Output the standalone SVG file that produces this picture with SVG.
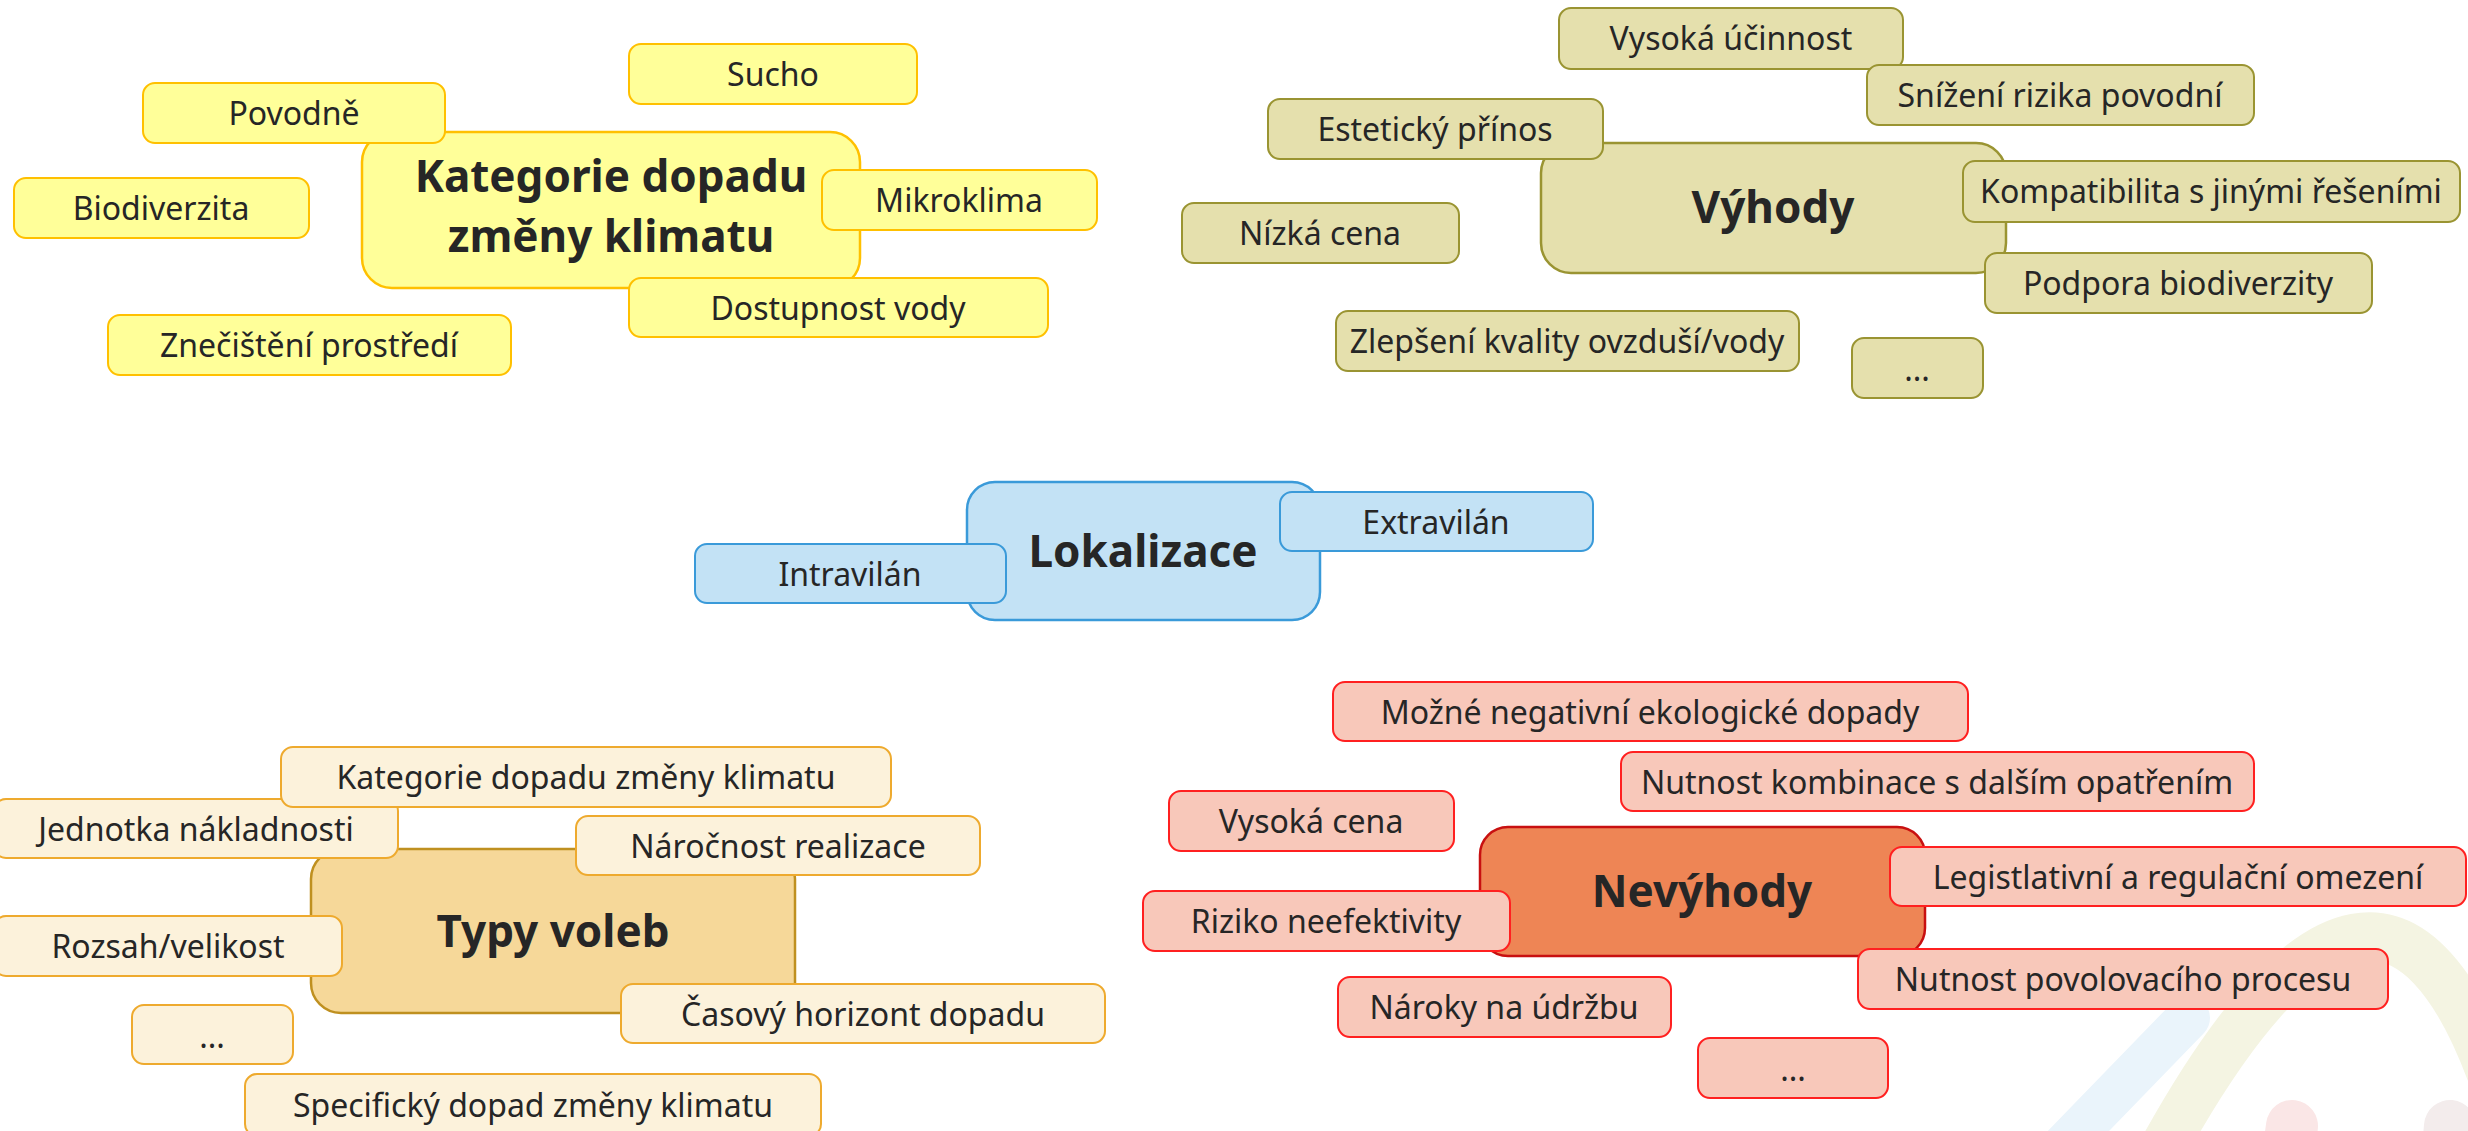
<svg xmlns="http://www.w3.org/2000/svg" width="2468" height="1131" viewBox="0 0 2468 1131">
<style>
rect{stroke-width:2}
.ym{fill:#FFFF99;stroke:#FFC000;stroke-width:2.5}
.y{fill:#FFFF99;stroke:#FFC000}
.km{fill:#E5E0AD;stroke:#9A9432;stroke-width:2.5}
.k{fill:#E5E0AD;stroke:#9A9432}
.bm{fill:#C3E2F5;stroke:#3A9AD9;stroke-width:2.5}
.b{fill:#C3E2F5;stroke:#3A9AD9}
.om{fill:#F6D899;stroke:#BF9020;stroke-width:2.5}
.o{fill:#FCF2DB;stroke:#EEAA2E}
.rm{fill:#EE8555;stroke:#C81010;stroke-width:2.5}
.r{fill:#F8C8BA;stroke:#FF2020}
text{font-family:"Noto Sans","Open Sans",sans-serif;fill:#262626;text-anchor:middle}
.t{font-size:32px}
.h{font-size:44px;font-weight:bold}
.wm{fill:none;stroke-linecap:round}
</style>
<g id="watermark">
<path class="wm" d="M2165 1145 Q2380 760 2495 1085" stroke="#F4F4E2" stroke-width="48"/>
<path class="wm" d="M2188 1018 L2060 1150" stroke="#EAF4FB" stroke-width="44"/>
<path class="wm" d="M2292 1126 L2286 1170" stroke="#FAE6E6" stroke-width="52"/>
<path class="wm" d="M2450 1126 L2446 1170" stroke="#F3ECEC" stroke-width="52"/>
</g>
<g id="connectors"/>
<g id="kategorie">
<g id="kategorie-main"><rect class="ym" x="362" y="132" width="498" height="156" rx="30"/><text class="h" x="611" y="192">Kategorie dopadu</text><text class="h" x="611" y="252">změny klimatu</text></g>
<g id="sucho"><rect class="y" x="629" y="44" width="288" height="60" rx="12"/><text class="t" x="773" y="86">Sucho</text></g>
<g id="povodne"><rect class="y" x="143" y="83" width="302" height="60" rx="12"/><text class="t" x="294" y="125">Povodně</text></g>
<g id="biodiverzita"><rect class="y" x="14" y="178" width="295" height="60" rx="12"/><text class="t" x="161" y="220">Biodiverzita</text></g>
<g id="mikroklima"><rect class="y" x="822" y="170" width="275" height="60" rx="12"/><text class="t" x="959" y="212">Mikroklima</text></g>
<g id="dostupnost"><rect class="y" x="629" y="278" width="419" height="59" rx="12"/><text class="t" x="838" y="320">Dostupnost vody</text></g>
<g id="znecisteni"><rect class="y" x="108" y="315" width="403" height="60" rx="12"/><text class="t" x="309" y="357">Znečištění prostředí</text></g>
</g>
<g id="vyhody">
<g id="vyhody-main"><rect class="km" x="1541" y="143" width="465" height="130" rx="30"/><text class="h" x="1773" y="223">Výhody</text></g>
<g id="vysoka-ucinnost"><rect class="k" x="1559" y="8" width="344" height="61" rx="12"/><text class="t" x="1731" y="50">Vysoká účinnost</text></g>
<g id="snizeni"><rect class="k" x="1867" y="65" width="387" height="60" rx="12"/><text class="t" x="2060" y="107">Snížení rizika povodní</text></g>
<g id="esteticky"><rect class="k" x="1268" y="99" width="335" height="60" rx="12"/><text class="t" x="1435" y="141">Estetický přínos</text></g>
<g id="kompatibilita"><rect class="k" x="1963" y="161" width="497" height="61" rx="12"/><text class="t" x="2211" y="203">Kompatibilita s jinými řešeními</text></g>
<g id="nizka-cena"><rect class="k" x="1182" y="203" width="277" height="60" rx="12"/><text class="t" x="1320" y="245">Nízká cena</text></g>
<g id="podpora"><rect class="k" x="1985" y="253" width="387" height="60" rx="12"/><text class="t" x="2178" y="295">Podpora biodiverzity</text></g>
<g id="zlepseni"><rect class="k" x="1336" y="311" width="463" height="60" rx="12"/><text class="t" x="1567" y="353">Zlepšení kvality ovzduší/vody</text></g>
<g id="vyhody-etc"><rect class="k" x="1852" y="338" width="131" height="60" rx="12"/><text class="t" x="1917" y="381">...</text></g>
</g>
<g id="lokalizace">
<g id="lokalizace-main"><rect class="bm" x="967" y="482" width="353" height="138" rx="28"/><text class="h" x="1143" y="567">Lokalizace</text></g>
<g id="intravilan"><rect class="b" x="695" y="544" width="311" height="59" rx="12"/><text class="t" x="850" y="586">Intravilán</text></g>
<g id="extravilan"><rect class="b" x="1280" y="492" width="313" height="59" rx="12"/><text class="t" x="1436" y="534">Extravilán</text></g>
</g>
<g id="typy">
<g id="typy-main"><rect class="om" x="311" y="849" width="484" height="164" rx="30"/><text class="h" x="553" y="947">Typy voleb</text></g>
<g id="jednotka"><rect class="o" x="-6" y="799" width="404" height="59" rx="12"/><text class="t" x="196" y="841">Jednotka nákladnosti</text></g>
<g id="typy-kategorie"><rect class="o" x="281" y="747" width="610" height="60" rx="12"/><text class="t" x="586" y="789">Kategorie dopadu změny klimatu</text></g>
<g id="narocnost"><rect class="o" x="576" y="816" width="404" height="59" rx="12"/><text class="t" x="778" y="858">Náročnost realizace</text></g>
<g id="rozsah"><rect class="o" x="-6" y="916" width="348" height="60" rx="12"/><text class="t" x="168" y="958">Rozsah/velikost</text></g>
<g id="casovy"><rect class="o" x="621" y="984" width="484" height="59" rx="12"/><text class="t" x="863" y="1026">Časový horizont dopadu</text></g>
<g id="typy-etc"><rect class="o" x="132" y="1005" width="161" height="59" rx="12"/><text class="t" x="212" y="1048">...</text></g>
<g id="specificky"><rect class="o" x="245" y="1074" width="576" height="62" rx="12"/><text class="t" x="533" y="1117">Specifický dopad změny klimatu</text></g>
</g>
<g id="nevyhody">
<g id="nevyhody-main"><rect class="rm" x="1480" y="827" width="445" height="129" rx="28"/><text class="h" x="1702" y="907">Nevýhody</text></g>
<g id="mozne"><rect class="r" x="1333" y="682" width="635" height="59" rx="12"/><text class="t" x="1650" y="724">Možné negativní ekologické dopady</text></g>
<g id="kombinace"><rect class="r" x="1621" y="752" width="633" height="59" rx="12"/><text class="t" x="1937" y="794">Nutnost kombinace s dalším opatřením</text></g>
<g id="vysoka-cena"><rect class="r" x="1169" y="791" width="285" height="60" rx="12"/><text class="t" x="1311" y="833">Vysoká cena</text></g>
<g id="legislativni"><rect class="r" x="1890" y="847" width="576" height="59" rx="12"/><text class="t" x="2178" y="889">Legistlativní a regulační omezení</text></g>
<g id="riziko"><rect class="r" x="1143" y="891" width="367" height="60" rx="12"/><text class="t" x="1326" y="933">Riziko neefektivity</text></g>
<g id="povolovaci"><rect class="r" x="1858" y="949" width="530" height="60" rx="12"/><text class="t" x="2123" y="991">Nutnost povolovacího procesu</text></g>
<g id="naroky"><rect class="r" x="1338" y="977" width="333" height="60" rx="12"/><text class="t" x="1504" y="1019">Nároky na údržbu</text></g>
<g id="nevyhody-etc"><rect class="r" x="1698" y="1038" width="190" height="60" rx="12"/><text class="t" x="1793" y="1081">...</text></g>
</g>
</svg>
